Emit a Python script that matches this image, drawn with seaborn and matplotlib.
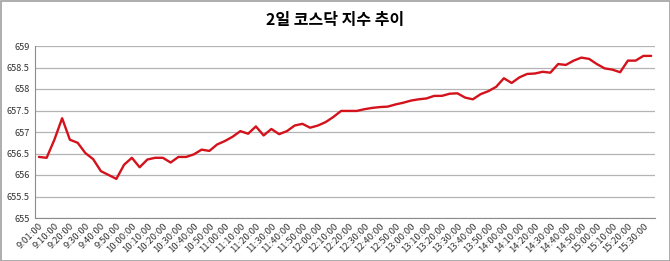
import matplotlib
matplotlib.use("Agg")
import matplotlib.pyplot as plt
import seaborn as sns
import pandas as pd
from matplotlib.patches import Rectangle

title = "2일 코스닥 지수 추이"

times = [
    "9:01:00", "9:05:00", "9:10:00", "9:15:00", "9:20:00", "9:25:00", "9:30:00", "9:35:00",
    "9:40:00", "9:45:00", "9:50:00", "9:55:00", "10:00:00", "10:05:00", "10:10:00", "10:15:00",
    "10:20:00", "10:25:00", "10:30:00", "10:35:00", "10:40:00", "10:45:00", "10:50:00", "10:55:00",
    "11:00:00", "11:05:00", "11:10:00", "11:15:00", "11:20:00", "11:25:00", "11:30:00", "11:35:00",
    "11:40:00", "11:45:00", "11:50:00", "11:55:00", "12:00:00", "12:05:00", "12:10:00", "12:15:00",
    "12:20:00", "12:25:00", "12:30:00", "12:35:00", "12:40:00", "12:45:00", "12:50:00", "12:55:00",
    "13:00:00", "13:05:00", "13:10:00", "13:15:00", "13:20:00", "13:25:00", "13:30:00", "13:35:00",
    "13:40:00", "13:45:00", "13:50:00", "13:55:00", "14:00:00", "14:05:00", "14:10:00", "14:15:00",
    "14:20:00", "14:25:00", "14:30:00", "14:35:00", "14:40:00", "14:45:00", "14:50:00", "14:55:00",
    "15:00:00", "15:05:00", "15:10:00", "15:15:00", "15:20:00", "15:25:00", "15:30:00", "15:35:00",
]

index_values = [
    656.42, 656.40, 656.82, 657.32, 656.82, 656.75, 656.51, 656.37,
    656.09, 656.00, 655.91, 656.24, 656.40, 656.18, 656.36, 656.40,
    656.40, 656.29, 656.42, 656.42, 656.48, 656.59, 656.56, 656.71,
    656.79, 656.89, 657.02, 656.96, 657.13, 656.92, 657.07, 656.95,
    657.02, 657.15, 657.19, 657.10, 657.15, 657.23, 657.35, 657.49,
    657.49, 657.49, 657.53, 657.56, 657.58, 657.59, 657.64, 657.68,
    657.73, 657.76, 657.78, 657.84, 657.84, 657.89, 657.90, 657.80,
    657.76, 657.88, 657.95, 658.05, 658.25, 658.14, 658.27, 658.35,
    658.36, 658.40, 658.38, 658.58, 658.56, 658.66, 658.73, 658.70,
    658.58, 658.48, 658.45, 658.39, 658.66, 658.66, 658.77, 658.77,
]

y_ticks = [655, 655.5, 656, 656.5, 657, 657.5, 658, 658.5, 659]

df = pd.DataFrame({"pos": range(len(times)), "time": times, "value": index_values})

sns.set_theme(style="white")
plt.rcParams["font.family"] = ["Noto Sans CJK KR", "DejaVu Sans"]

fig = plt.figure(figsize=(6.70, 2.61), dpi=100)
ax = fig.add_axes([35 / 670, 1 - 218 / 261, 620 / 670, 172 / 261])

sns.lineplot(data=df, x="pos", y="value", ax=ax, color="#d4121c", linewidth=1.7,
             solid_joinstyle="round", zorder=3)

ax.set_xlim(-0.5, len(times) - 0.5)
ax.set_ylim(655, 659)
ax.set_yticks(y_ticks)
ax.set_yticklabels([f"{v:g}" for v in y_ticks], fontsize=6.6, color="#333333")
ax.yaxis.grid(True, color="#b4b4b4", linewidth=0.9)
ax.xaxis.grid(False)

# category boundary tick marks, labels every other category
ax.set_xticks([i - 0.5 for i in range(len(times) + 1)], minor=False)
ax.set_xticklabels([])
ax.tick_params(axis="x", which="major", length=3, width=0.7, color="#8c8c8c", direction="out")
lab_pos = list(range(0, len(times), 2))
ax.set_xticks(lab_pos, minor=True)
ax.set_xticklabels([times[i] for i in lab_pos], minor=True, rotation=45, ha="right",
                   rotation_mode="anchor", fontsize=6.8, color="#333333")
ax.tick_params(axis="x", which="minor", length=0, pad=2.5)
ax.tick_params(axis="y", length=3, width=0.7, color="#8c8c8c", direction="out", pad=1)

for s in ["top", "right"]:
    ax.spines[s].set_visible(False)
for s in ["left", "bottom"]:
    ax.spines[s].set_color("#8c8c8c")
    ax.spines[s].set_linewidth(0.8)

ax.set_xlabel("")
ax.set_ylabel("")

fig.text(0.5, 1 - 20 / 261, title, ha="center", va="center", fontsize=11.5,
         fontweight="bold", color="#000000")

fig.patches.append(Rectangle((0.5 / 670, 0.5 / 261), 669 / 670, 260 / 261,
                             transform=fig.transFigure, fill=False,
                             edgecolor="#a0a0a0", linewidth=1.2))

fig.savefig("out.png", dpi=100)
